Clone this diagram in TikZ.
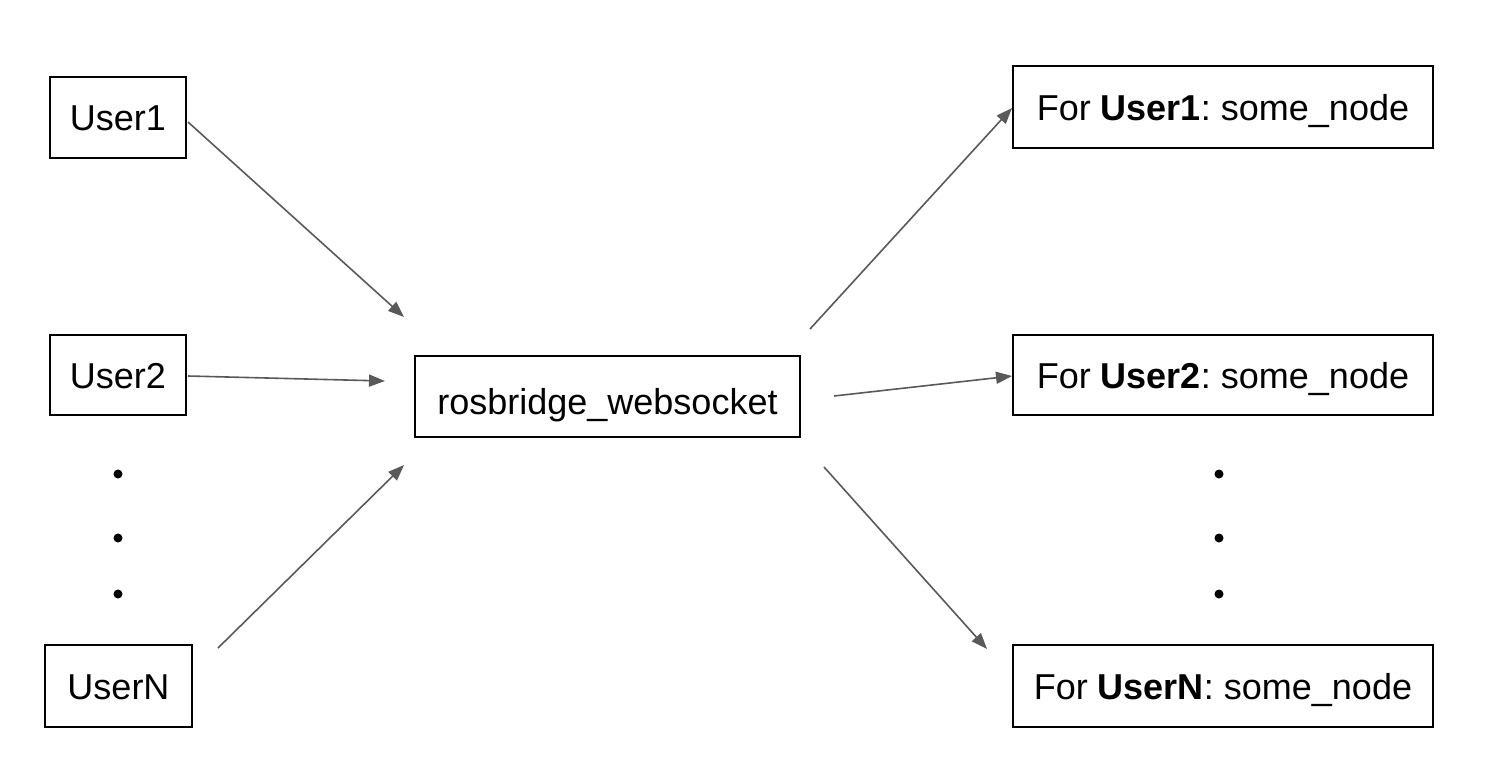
\documentclass[tikz,border=0pt]{standalone}
\usepackage{fontspec}
\setmainfont{Liberation Sans}
\usetikzlibrary{arrows.meta}
\definecolor{arrowgray}{HTML}{595959}
\frenchspacing
\tikzset{
  box/.style={draw=black, line width=1.6pt, rectangle, inner sep=0pt, text height=26pt, text depth=0pt, font=\fontsize{36}{43}\selectfont},
  conn/.style={draw=arrowgray, line width=1.6pt, -{Triangle[length=16pt,width=12pt]}},
  vdot/.style={circle, fill=black, inner sep=0pt, minimum size=9pt}
}
\begin{document}
\begin{tikzpicture}[x=1pt,y=-1pt]
\useasboundingbox (0,0) rectangle (1488,782);
% left boxes
\node[box, minimum width=136pt, minimum height=81pt] (u1) at (118,117.5) {User1};
\node[box, minimum width=136pt, minimum height=80pt] (u2) at (118,375) {User2};
\node[box, minimum width=147pt, minimum height=82pt] (un) at (118.5,686) {UserN};
% center
\node[box, text height=36pt, minimum width=385pt, minimum height=81pt] (ros) at (607.5,396.5) {rosbridge\_websocket};
% right boxes
\node[box, minimum width=420pt, minimum height=82pt] (o1) at (1223,107) {For \textbf{User1}: some\_node};
\node[box, minimum width=420pt, minimum height=80pt] (o2) at (1223,375) {For \textbf{User2}: some\_node};
\node[box, minimum width=420pt, minimum height=82pt] (on) at (1223,686) {For \textbf{UserN}: some\_node};
% dots
\node[vdot] (ld1) at (118,474) {};
\node[vdot] (ld2) at (118,538) {};
\node[vdot] (ld3) at (118,594) {};
\node[vdot] (rd1) at (1219,474) {};
\node[vdot] (rd2) at (1219,538) {};
\node[vdot] (rd3) at (1219,594) {};
% connector end points
\coordinate (a1s) at (188,122);
\coordinate (a1e) at (404,317);
\coordinate (a2s) at (188,376);
\coordinate (a2e) at (385,381);
\coordinate (ans) at (218,648);
\coordinate (ane) at (404,465);
\coordinate (b1s) at (810,329);
\coordinate (b1e) at (1012,108);
\coordinate (b2s) at (834,396);
\coordinate (b2e) at (1012,376);
\coordinate (bns) at (824,467);
\coordinate (bne) at (987,649);
\draw[conn] (a1s) -- (a1e);
\draw[conn] (a2s) -- (a2e);
\draw[conn] (ans) -- (ane);
\draw[conn] (b1s) -- (b1e);
\draw[conn] (b2s) -- (b2e);
\draw[conn] (bns) -- (bne);
\end{tikzpicture}
\end{document}
